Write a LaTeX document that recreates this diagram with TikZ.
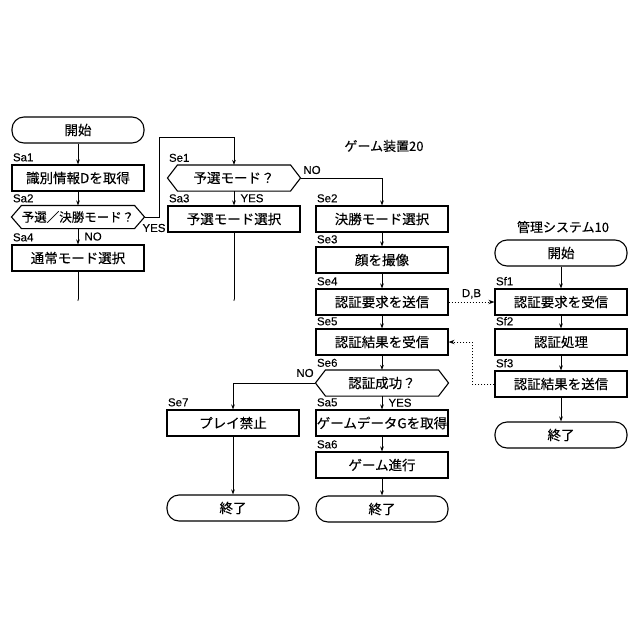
\documentclass[tikz,border=0pt]{standalone}
\usepackage{fontspec}
\setmainfont{Liberation Sans}[FakeBold=0.2]
\newfontfamily\jp{Noto Sans CJK JP}[FakeBold=0.2]
\usetikzlibrary{arrows.meta}
\newcommand{\hexshape}[1]{\draw[boxline] (#1.west) -- ([xshift=10pt]#1.north west) -- ([xshift=-10pt]#1.north east) -- (#1.east) -- ([xshift=-10pt]#1.south east) -- ([xshift=10pt]#1.south west) -- cycle;}
\begin{document}
\begin{tikzpicture}[x=1pt,y=-1pt,
  line width=1.1pt,
  boxline/.style={draw=black, line width=1.1pt},
  proc/.style={draw, line width=1.1pt, minimum width=132pt, minimum height=26pt, inner sep=0pt, font=\jp\fontsize{13.5}{14}\selectfont},
  term/.style={proc, rounded corners=12pt},
  hexa/.style={minimum width=132pt, minimum height=25pt, inner sep=0pt, font=\jp\fontsize{13.5}{14}\selectfont},
  steplbl/.style={anchor=south west, inner sep=0pt, font=\fontsize{11.5}{12}\selectfont, yshift=2.5pt, xshift=1pt},
  yn/.style={inner sep=0pt, font=\fontsize{11.5}{12}\selectfont},
  flow/.style={-{Stealth[length=5pt,width=3.6pt]}, line width=1pt},
  plain/.style={line width=1pt},
  dotflow/.style={-{Stealth[length=6pt,width=4.4pt]}, line width=1pt, dash pattern=on 1.5pt off 1.5pt},
  title/.style={font=\jp\fontsize{13}{14}\selectfont, inner sep=0pt}
]
\useasboundingbox (0,0) rectangle (640,640);
\fill[white] (0,0) rectangle (640,640);

% column A
\node[term] (A0) at (78,130) {開始};
\node[proc] (A1) at (78,178) {識別情報Dを取得};
\node[hexa, minimum height=22pt, font=\jp\fontsize{12.5}{13}\selectfont] (A2) at (78,217) {予選／決勝モード？};
\node[proc] (A4) at (78,258) {通常モード選択};
\coordinate (Aend) at (78,300);
\hexshape{A2}
\node[steplbl] (lA1) at (A1.north west) {Sa1};
\node[steplbl] (lA2) at (A2.north west) {Sa2};
\node[steplbl] (lA4) at (A4.north west) {Sa4};

% column B
\node[hexa] (B1) at (234,178) {予選モード？};
\node[proc] (B3) at (234,219) {予選モード選択};
\coordinate (Bend) at (234,300);
\hexshape{B1}
\node[steplbl] (lB1) at (B1.north west) {Se1};
\node[steplbl] (lB3) at (B3.north west) {Sa3};
\node[proc] (B7) at (233,423) {プレイ禁止};
\node[term] (B9) at (233,508) {終了};
\node[steplbl] (lB7) at (B7.north west) {Se7};
\node[title] (T20) at (384,146) {ゲーム装置20};

% column C
\node[proc] (C2) at (382,219) {決勝モード選択};
\node[proc] (C3) at (382,260) {顔を撮像};
\node[proc] (C4) at (382,302) {認証要求を送信};
\node[proc] (C5) at (382,342) {認証結果を受信};
\node[hexa] (C6) at (382,383) {認証成功？};
\node[proc] (C7) at (382,423) {ゲームデータGを取得};
\node[proc] (C8) at (382,465) {ゲーム進行};
\node[term] (C9) at (382,509) {終了};
\hexshape{C6}
\node[steplbl] (lC2) at (C2.north west) {Se2};
\node[steplbl] (lC3) at (C3.north west) {Se3};
\node[steplbl] (lC4) at (C4.north west) {Se4};
\node[steplbl] (lC5) at (C5.north west) {Se5};
\node[steplbl] (lC6) at (C6.north west) {Se6};
\node[steplbl] (lC7) at (C7.north west) {Sa5};
\node[steplbl] (lC8) at (C8.north west) {Sa6};

% column D
\node[title] (T10) at (563,227) {管理システム10};
\node[term] (D0) at (561,253) {開始};
\node[proc] (D1) at (561,302) {認証要求を受信};
\node[proc] (D2) at (561,342) {認証処理};
\node[proc] (D3) at (561,384) {認証結果を送信};
\node[term] (D9) at (561,435) {終了};
\node[steplbl] (lD1) at (D1.north west) {Sf1};
\node[steplbl] (lD2) at (D2.north west) {Sf2};
\node[steplbl] (lD3) at (D3.north west) {Sf3};

% connectors A
\draw[flow] (A0) -- (A1);
\draw[flow] (A1) -- (A2);
\draw[flow] (A2) -- node[yn, right=6pt] {NO} (A4);
\draw[plain] (A4) -- (Aend);
\fill[gray] (Aend) circle (1pt);
\coordinate (Y1) at (159,137);
\draw[flow] (A2.east) -| (Y1) -| (B1.north);
\node[yn] (yesA) at (154,228) {YES};

% connectors B
\draw[flow] (B1) -- node[yn, right=6pt] {YES} (B3);
\draw[plain] (B3) -- (Bend);
\fill[gray] (Bend) circle (1pt);
\draw[flow] (B1.east) -| (C2.north);
\node[yn] (noB) at (312,170) {NO};

% connectors C
\draw[flow] (C2) -- (C3);
\draw[flow] (C3) -- (C4);
\draw[flow] (C4) -- (C5);
\draw[flow] (C5) -- (C6);
\draw[flow] (C6) -- node[yn, right=6pt] {YES} (C7);
\draw[flow] (C7) -- (C8);
\draw[flow] (C8) -- (C9);
\draw[flow] (C6.west) -| (B7.north);
\node[yn] (noC) at (305,373) {NO};
\draw[flow] (B7) -- (B9);

% connectors D
\draw[flow] (D0) -- (D1);
\draw[flow] (D1) -- (D2);
\draw[flow] (D2) -- (D3);
\draw[flow] (D3) -- (D9);

% dotted messages
\draw[dotflow] (C4.east) -- node[yn, above=3pt] {D,B} (D1.west);
\coordinate (R1) at (472,0);
\draw[dotflow] (D3.west) -- (D3.west -| R1) |- (C5.east);
\end{tikzpicture}
\end{document}
